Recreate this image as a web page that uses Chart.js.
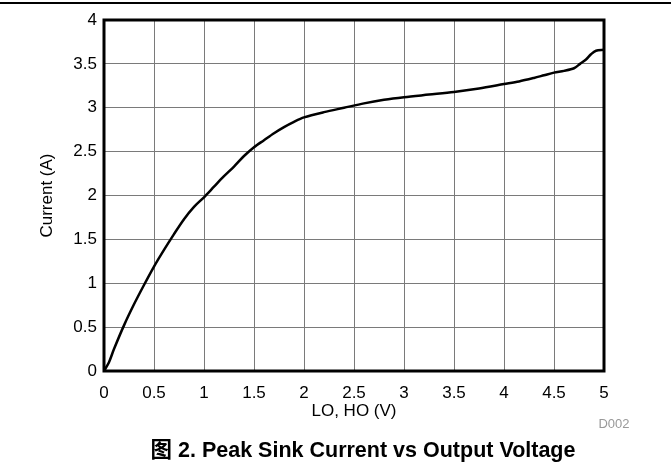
<!DOCTYPE html>
<html>
<head>
<meta charset="utf-8">
<script src="https://cdn.jsdelivr.net/npm/chart.js@4"></script>
<style>
  html, body { margin: 0; padding: 0; background: #fff; }
  #wrap { position: relative; width: 671px; height: 466px; }
</style>
</head>
<body>
<div id="wrap"><canvas id="sinkChart" width="671" height="466"></canvas></div>
<script>
// Peak sink current vs output voltage
const voltage = [0, 0.05, 0.1, 0.2, 0.3, 0.4, 0.5, 0.6, 0.7, 0.8, 0.9, 1.0, 1.1, 1.2, 1.3, 1.4, 1.5, 1.6, 1.7, 1.8, 1.9, 2.0,
                 2.2, 2.4, 2.6, 2.8, 3.0, 3.25, 3.5, 3.75, 4.0, 4.15, 4.3, 4.4, 4.5, 4.6, 4.7, 4.76, 4.82, 4.87, 4.92, 5.0];
const current = [0, 0.1, 0.25, 0.52, 0.76, 0.98, 1.19, 1.38, 1.56, 1.73, 1.87, 1.98, 2.1, 2.22, 2.33, 2.45, 2.55, 2.63, 2.71, 2.78, 2.84, 2.89,
                 2.95, 3.0, 3.05, 3.09, 3.12, 3.15, 3.18, 3.22, 3.27, 3.30, 3.34, 3.37, 3.40, 3.42, 3.45, 3.50, 3.55, 3.61, 3.65, 3.66];

const xTicks = [0, 0.5, 1, 1.5, 2, 2.5, 3, 3.5, 4, 4.5, 5];
const yTicks = [0, 0.5, 1, 1.5, 2, 2.5, 3, 3.5, 4];

const xTitle = 'LO, HO (V)';
const yTitle = 'Current (A)';
const caption = '图 2. Peak Sink Current vs Output Voltage';
const figId = 'D002';

const FONT = '"Liberation Sans", Arial, "Noto Sans CJK SC", sans-serif';

// extra drawing: frame, top rule, axis titles, caption
const decorations = {
    id: 'decorations',
    afterDraw(chart) {
        const { ctx, chartArea: a } = chart;
        ctx.save();
        // top rule
        ctx.fillStyle = '#000';
        ctx.fillRect(0, 2, 671, 2);
        // plot frame
        ctx.strokeStyle = '#000';
        ctx.lineWidth = 3;
        ctx.strokeRect(a.left, a.top, a.right - a.left, a.bottom - a.top);

        ctx.fillStyle = '#000';
        ctx.textAlign = 'center';
        ctx.textBaseline = 'middle';
        ctx.font = '17px ' + FONT;
        ctx.fillText(xTitle, 354, 411);

        ctx.save();
        ctx.translate(47, (a.top + a.bottom) / 2);
        ctx.rotate(-Math.PI / 2);
        ctx.fillText(yTitle, 0, 0);
        ctx.restore();

        ctx.fillStyle = '#999';
        ctx.font = '13px ' + FONT;
        ctx.fillText(figId, 614, 424);

        ctx.fillStyle = '#000';
        ctx.font = 'bold 21.5px ' + FONT;
        ctx.fillText(caption, 363, 451);
        ctx.restore();
    }
};

const ctx = document.getElementById('sinkChart').getContext('2d');
const sinkChart = new Chart(ctx, {
    type: 'line',
    data: {
        datasets: [{
            data: voltage.map((v, i) => ({ x: v, y: current[i] })),
            borderColor: '#000',
            borderWidth: 2.5,
            pointRadius: 0,
            tension: 0.3,
            fill: false
        }]
    },
    options: {
        responsive: false,
        animation: false,
        layout: { padding: { top: 20, right: 67, left: 0, bottom: 0 } },
        plugins: {
            legend: { display: false },
            tooltip: { enabled: false }
        },
        scales: {
            x: {
                type: 'linear',
                min: 0,
                max: 5,
                afterBuildTicks: s => { s.ticks = xTicks.map(v => ({ value: v })); },
                afterFit: s => { s.height = 95; },
                grid: { color: '#7a7a7a', lineWidth: 1, drawTicks: false },
                border: { display: false },
                ticks: {
                    color: '#000',
                    padding: 12,
                    maxRotation: 0,
                    font: { family: FONT, size: 17 },
                    callback: v => String(v)
                }
            },
            y: {
                type: 'linear',
                min: 0,
                max: 4,
                afterBuildTicks: s => { s.ticks = yTicks.map(v => ({ value: v })); },
                afterFit: s => { s.width = 104; },
                grid: { color: '#7a7a7a', lineWidth: 1, drawTicks: false },
                border: { display: false },
                ticks: {
                    color: '#000',
                    padding: 7,
                    font: { family: FONT, size: 17 },
                    callback: v => String(v)
                }
            }
        }
    },
    plugins: [decorations]
});
</script>
</body>
</html>
